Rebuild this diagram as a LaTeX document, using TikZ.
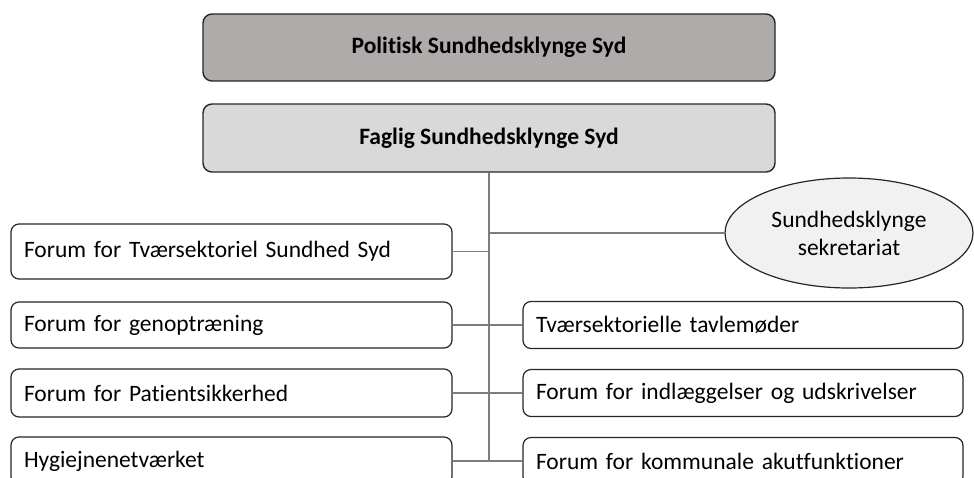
\documentclass[tikz,border=0pt]{standalone}
\usepackage{fontspec}
\setmainfont{Carlito}[Ligatures=NoCommon]
\usetikzlibrary{positioning,shapes.geometric}
\definecolor{darkbox}{RGB}{175,171,170}
\definecolor{lightbox}{RGB}{217,217,217}
\definecolor{ovalfill}{RGB}{241,241,241}
\definecolor{linkgray}{RGB}{125,125,125}
\tikzset{
  headbox/.style={draw=black!85, line width=1.4pt, rounded corners=9pt,
    minimum width=572pt, font=\bfseries\fontsize{23.5}{26}\selectfont},
  forumbox/.style={draw=black!85, line width=1.2pt, rounded corners=8pt,
    fill=white, minimum width=441pt, text width=415pt, inner xsep=13pt,
    align=left, font=\fontsize{23.5}{26}\selectfont},
  link/.style={draw=linkgray, line width=1.2pt},
}

\begin{document}
\begin{tikzpicture}[x=1pt,y=-1pt]
  \clip (0,0) rectangle (974,477);

  \node [headbox, fill=darkbox, minimum height=67pt] at (489,47.5) (politisk) {Politisk Sundhedsklynge Syd};
  \node [headbox, fill=lightbox, minimum height=68pt] at (489,138) (faglig) {Faglig Sundhedsklynge Syd};

  \node [ellipse, draw=black!85, line width=1.2pt, fill=ovalfill, minimum width=248pt, minimum height=110pt,
    align=center, font=\fontsize{23.5}{28}\selectfont] at (849,233) (sekr) {Sundhedsklynge\\sekretariat};

  % left column
  \foreach \n/\y/\h/\txt in {1/251.5/55/Forum for Tværsektoriel Sundhed Syd,
      2/325/46/Forum for genoptræning,
      3/393/48/Forum for Patientsikkerhed,
      4/461/48/Hygiejnenetværket}
  {
    \node [forumbox, minimum height=\h pt] at (231.5,\y) (left_\n) {\txt};
  }

  % right column
  \foreach \n/\y/\txt in {1/325/Tværsektorielle tavlemøder,
      2/393/Forum for indlæggelser og udskrivelser,
      3/461/Forum for kommunale akutfunktioner}
  {
    \node [forumbox, minimum width=440pt, text width=414pt, minimum height=47pt] at (743,\y) (right_\n) {\txt};
  }

  \coordinate (trunk_end) at (489,461);
  \draw [link] (faglig.south) -- (trunk_end);
  \draw [link] (sekr.west) -- (sekr.west -| faglig.south);

  \foreach \n in {1,...,4}
    \draw [link] (left_\n.east) -- (left_\n.east -| faglig.south);
  \foreach \n in {1,...,3}
    \draw [link] (right_\n.west) -- (right_\n.west -| faglig.south);

\end{tikzpicture}
\end{document}
